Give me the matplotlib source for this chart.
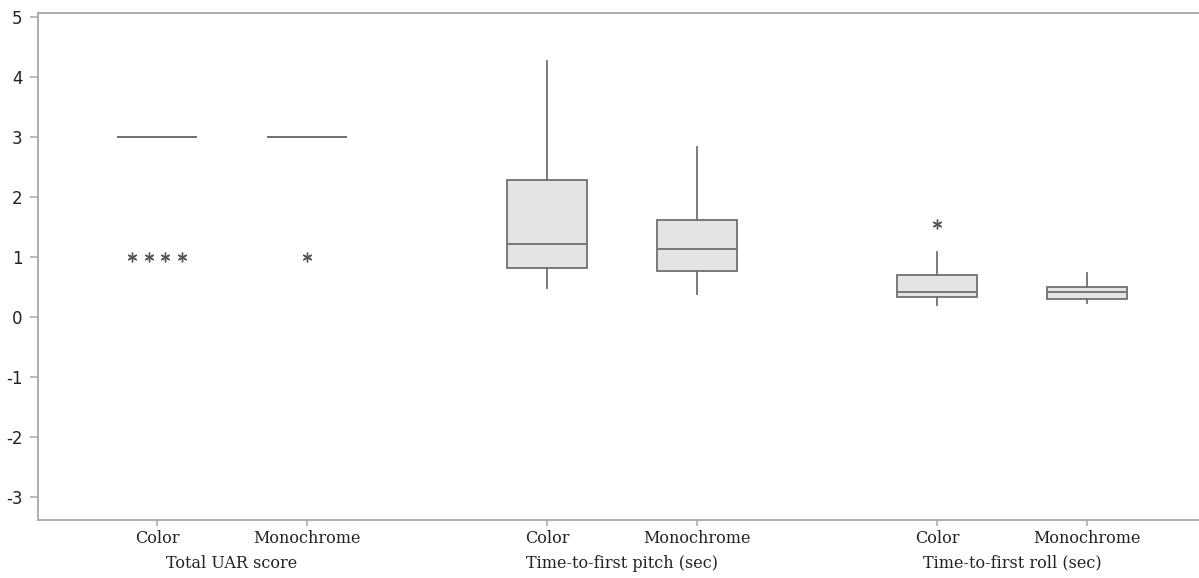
import matplotlib
matplotlib.use("Agg")
import matplotlib.pyplot as plt
from matplotlib.transforms import blended_transform_factory

# ---- data ----
groups = ["Total UAR score", "Time-to-first pitch (sec)", "Time-to-first roll (sec)"]
categories = ["Color", "Monochrome", "Color", "Monochrome", "Color", "Monochrome"]
whislo = [3.0, 3.0, 0.48, 0.38, 0.21, 0.23]
q1 = [3.0, 3.0, 0.82, 0.77, 0.345, 0.30]
med = [3.0, 3.0, 1.22, 1.13, 0.42, 0.415]
q3 = [3.0, 3.0, 2.28, 1.62, 0.705, 0.505]
whishi = [3.0, 3.0, 4.27, 2.83, 1.09, 0.74]
outliers = [[1, 1, 1, 1], [1], [], [], [1.55], []]
yticks = [-3, -2, -1, 0, 1, 2, 3, 4, 5]

W, H = 1199, 578
fig = plt.figure(figsize=(W / 100, H / 100), dpi=100)
ax = fig.add_axes([38 / W, (H - 520) / H, 1 - 38 / W, (520 - 13) / H])

# positions: pairs within group spaced 1, groups spaced 2.6
positions = []
for g in range(len(groups)):
    positions += [g * 2.6, g * 2.6 + 1]

line_c = "#707070"
stats = []
for i in range(len(categories)):
    stats.append(dict(med=med[i], q1=q1[i], q3=q3[i], whislo=whislo[i],
                      whishi=whishi[i], fliers=[], label=categories[i]))

ax.bxp(stats, positions=positions, widths=0.533, patch_artist=True,
       showcaps=False, showfliers=False,
       boxprops=dict(facecolor="#e4e4e4", edgecolor=line_c, linewidth=1.3),
       medianprops=dict(color=line_c, linewidth=1.3),
       whiskerprops=dict(color=line_c, linewidth=1.3))

# outliers: duplicates placed side by side
step = 0.111
for p, vals in zip(positions, outliers):
    n = len(vals)
    for k, v in enumerate(vals):
        off = (k - (n - 1) / 2) * step
        ax.plot(p + off, v, linestyle="none", marker=(6, 2, 0), markersize=7,
                color="#555555", markeredgewidth=1.0)

ax.set_xlim(-0.793, (W - 157) / 150)
ax.set_ylim(-3.38, 5.07)
ax.set_yticks(yticks)
ax.set_yticklabels([str(t) for t in yticks], fontsize=12, color="#222222",
                   family="DejaVu Sans")
ax.set_xticks(positions)
ax.set_xticklabels(categories, fontsize=11.5, family="DejaVu Serif", color="#222222")

spine_c = "#a8a8a8"
for s in ["left", "top", "bottom"]:
    ax.spines[s].set_color(spine_c)
    ax.spines[s].set_linewidth(1.3)
ax.spines["right"].set_visible(False)
ax.tick_params(axis="y", length=6, width=1.1, color=spine_c, pad=5)
ax.tick_params(axis="x", length=4, width=1.1, color=spine_c, pad=3)

trans = blended_transform_factory(ax.transData, ax.transAxes)
for g, name in enumerate(groups):
    cx = (positions[2 * g] + positions[2 * g + 1]) / 2
    ax.annotate(name, xy=(cx, 0), xycoords=trans, xytext=(0, -31),
                textcoords="offset points", ha="center", va="center",
                fontsize=11.5, family="DejaVu Serif", color="#222222")

fig.savefig("out.png", dpi=100)
